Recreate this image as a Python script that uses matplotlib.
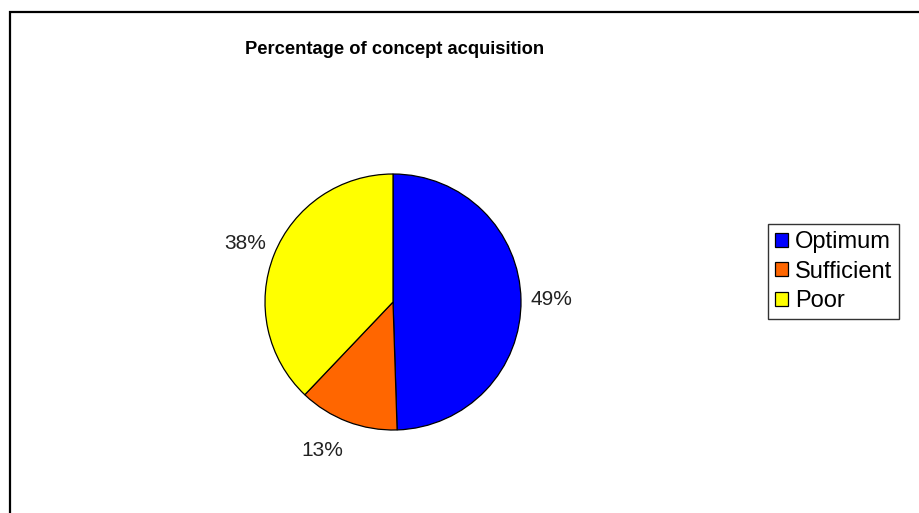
import matplotlib.pyplot as plt
from matplotlib.patches import Rectangle

plt.rcParams["font.family"] = ["Liberation Sans", "DejaVu Sans"]

# values (labels show rounded percentages)
categories = ["Optimum", "Sufficient", "Poor"]
shares = [49.49, 12.61, 37.9]
colors = ["#0000FF", "#FF6600", "#FFFF00"]

W, H, DPI = 919, 513, 100
fig = plt.figure(figsize=(W / DPI, H / DPI), dpi=DPI)
fig.patch.set_facecolor("white")

# outer chart border (right / bottom run off the image)
fig.add_artist(Rectangle((10 / W, -0.01), 1.0, 1 - 12 / H + 0.01,
                         transform=fig.transFigure, fill=False,
                         edgecolor="black", linewidth=1.6))

# pie: centre (393, 302) px, radius 128 px
cx, cy, r, half = 393, 302, 128, 150
ax = fig.add_axes([(cx - half) / W, (H - cy - half) / H, 2 * half / W, 2 * half / H])
lim = half / r
ax.set_aspect("equal")
ax.axis("off")

labels = [f"{v:.0f}%" for v in shares]
wedges, texts = ax.pie(shares, colors=colors, startangle=90, counterclock=False,
                       labels=labels, labeldistance=1.24, radius=1,
                       wedgeprops=dict(edgecolor="black", linewidth=0.9),
                       textprops=dict(fontsize=15, color="#222222"))
for t in texts:
    t.set_ha("center")
# Excel puts the small-slice label a bit further out to the left
texts[1].set_ha("right")
texts[1].set_x(texts[1].get_position()[0] + 0.05)
ax.set_xlim(-lim, lim)
ax.set_ylim(-lim, lim)

fig.text(395 / W, 1 - 50 / H, "Percentage of concept acquisition",
         ha="center", va="center", fontsize=13.2, fontweight="bold")

leg = fig.legend(wedges, categories, loc="upper left",
                 bbox_to_anchor=(768 / W, 1 - 224 / H),
                 fontsize=17, frameon=True, fancybox=False,
                 handlelength=0.55, handleheight=0.55, handletextpad=0.3,
                 labelspacing=0.32, borderpad=0.3, borderaxespad=0)
leg.get_frame().set_edgecolor("black")
leg.get_frame().set_linewidth(1.0)

fig.savefig("out.png", dpi=DPI)
